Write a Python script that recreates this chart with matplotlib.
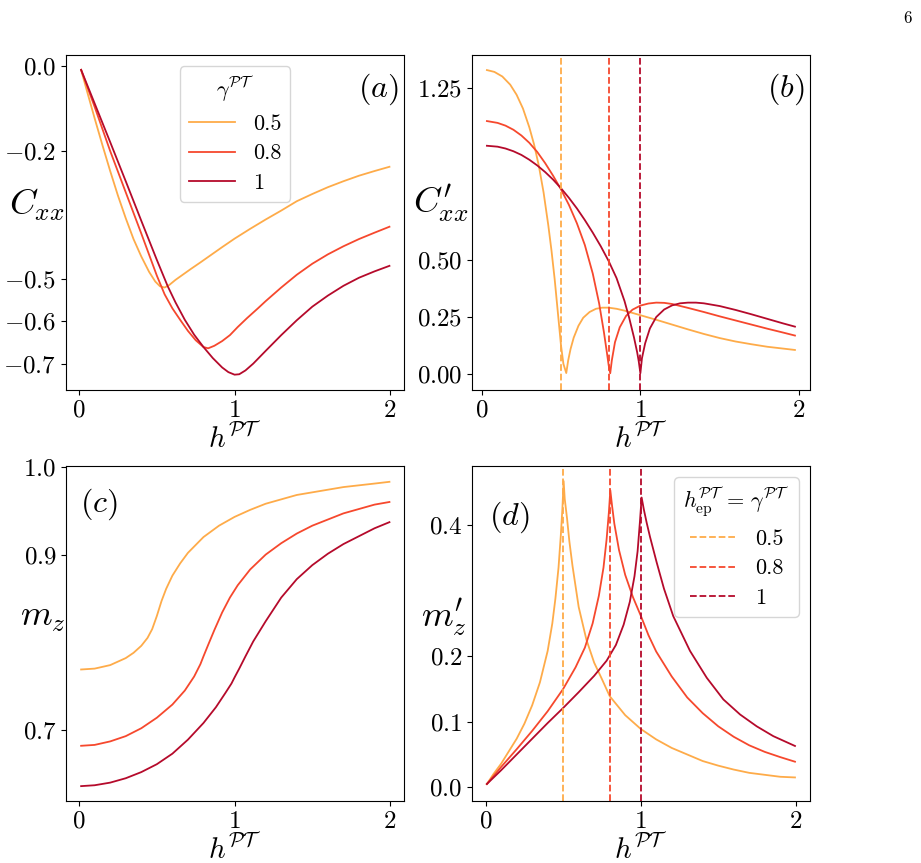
import numpy as np
import matplotlib
matplotlib.use('Agg')
from matplotlib import pyplot as plt
from matplotlib import rcParams

rcParams['font.family'] = 'serif'
rcParams['font.serif'] = ['cmr10', 'DejaVu Serif']
rcParams['mathtext.fontset'] = 'cm'
rcParams['axes.unicode_minus'] = False
rcParams['xtick.labelsize'] = 18
rcParams['ytick.labelsize'] = 18
rcParams['legend.fontsize'] = 16

gammas = ['0.5', '0.8', '1']
gamma_vals = [0.5, 0.8, 1.0]
colors = ['#feab49', '#f6482d', '#b50a2b']

# (a) C_xx
ha_05 = [0.013, 0.05, 0.1, 0.15, 0.2, 0.25, 0.3, 0.35, 0.4, 0.45, 0.49, 0.52, 0.55, 0.58, 0.62,
         0.67, 0.72, 0.78, 0.85, 0.92, 1.0, 1.1, 1.2, 1.3, 1.4, 1.5, 1.6, 1.7, 1.8, 1.9, 1.996]
Ca_05 = [-0.009, -0.058, -0.123, -0.186, -0.247, -0.305, -0.358, -0.407, -0.448, -0.484, -0.507,
         -0.518, -0.521, -0.515, -0.503, -0.490, -0.477, -0.462, -0.444, -0.426, -0.406, -0.383,
         -0.361, -0.340, -0.318, -0.301, -0.285, -0.271, -0.258, -0.247, -0.237]
ha_08 = [0.013, 0.1, 0.2, 0.3, 0.4, 0.5, 0.55, 0.6, 0.65, 0.7, 0.75, 0.8, 0.83, 0.87, 0.92, 0.97,
         1.02, 1.08, 1.15, 1.2, 1.3, 1.4, 1.5, 1.6, 1.7, 1.8, 1.9, 1.996]
Ca_08 = [-0.009, -0.096, -0.200, -0.297, -0.394, -0.493, -0.537, -0.570, -0.597, -0.623, -0.645,
         -0.661, -0.664, -0.658, -0.647, -0.633, -0.614, -0.593, -0.570, -0.553, -0.521, -0.491,
         -0.465, -0.443, -0.424, -0.407, -0.392, -0.378]
ha_10 = [0.013, 0.1, 0.2, 0.3, 0.4, 0.5, 0.57, 0.62, 0.68, 0.74, 0.8, 0.86, 0.92, 0.96, 1.0, 1.03,
         1.07, 1.12, 1.2, 1.3, 1.4, 1.5, 1.6, 1.7, 1.8, 1.9, 1.996]
Ca_10 = [-0.009, -0.088, -0.179, -0.271, -0.364, -0.456, -0.518, -0.556, -0.597, -0.632, -0.661,
         -0.687, -0.709, -0.720, -0.726, -0.725, -0.716, -0.700, -0.670, -0.633, -0.598, -0.566,
         -0.540, -0.517, -0.498, -0.483, -0.470]

# (b) C'_xx
hb_05 = [0.033, 0.08, 0.13, 0.18, 0.22, 0.26, 0.30, 0.33, 0.36, 0.39, 0.42, 0.44, 0.46, 0.48, 0.50,
         0.515, 0.533, 0.545, 0.56, 0.58, 0.61, 0.64, 0.68, 0.72, 0.76, 0.80, 0.85, 0.90, 0.95, 1.0,
         1.1, 1.2, 1.3, 1.4, 1.5, 1.6, 1.7, 1.8, 1.9, 1.974]
Cb_05 = [1.330, 1.322, 1.302, 1.266, 1.222, 1.162, 1.080, 1.005, 0.912, 0.795, 0.650, 0.540, 0.415,
         0.270, 0.125, 0.045, 0.005, 0.060, 0.110, 0.160, 0.212, 0.247, 0.272, 0.286, 0.291, 0.291,
         0.286, 0.278, 0.268, 0.258, 0.238, 0.217, 0.196, 0.176, 0.158, 0.143, 0.131, 0.120, 0.112,
         0.106]
hb_08 = [0.033, 0.1, 0.15, 0.2, 0.25, 0.3, 0.35, 0.4, 0.45, 0.5, 0.55, 0.6, 0.65, 0.7, 0.74, 0.77,
         0.79, 0.80, 0.81, 0.82, 0.84, 0.87, 0.91, 0.95, 1.0, 1.05, 1.1, 1.15, 1.2, 1.3, 1.4, 1.5,
         1.6, 1.7, 1.8, 1.9, 1.974]
Cb_08 = [1.107, 1.099, 1.087, 1.069, 1.044, 1.012, 0.972, 0.923, 0.868, 0.808, 0.740, 0.660,
         0.565, 0.440, 0.310, 0.185, 0.090, 0.040, 0.004, 0.060, 0.140, 0.205, 0.255, 0.282, 0.300,
         0.309, 0.313, 0.312, 0.307, 0.290, 0.272, 0.253, 0.235, 0.217, 0.199, 0.182, 0.169]
hb_10 = [0.033, 0.1, 0.15, 0.2, 0.25, 0.3, 0.35, 0.4, 0.45, 0.5, 0.55, 0.6, 0.65, 0.7, 0.75, 0.8,
         0.85, 0.9, 0.93, 0.96, 0.98, 0.99, 1.0, 1.01, 1.03, 1.06, 1.1, 1.15, 1.2, 1.25, 1.3, 1.35,
         1.4, 1.5, 1.6, 1.7, 1.8, 1.9, 1.974]
Cb_10 = [0.999, 0.995, 0.987, 0.975, 0.959, 0.938, 0.913, 0.884, 0.851, 0.813, 0.771, 0.725,
         0.674, 0.619, 0.560, 0.495, 0.420, 0.320, 0.245, 0.160, 0.095, 0.055, 0.004, 0.070, 0.135,
         0.200, 0.250, 0.283, 0.301, 0.310, 0.313, 0.313, 0.310, 0.298, 0.281, 0.262, 0.242, 0.222,
         0.208]

# (c) m_z
hc_05 = [0.013, 0.1, 0.2, 0.3, 0.35, 0.4, 0.44, 0.47, 0.5, 0.53, 0.56, 0.6, 0.65, 0.7, 0.8, 0.9,
         1.0, 1.1, 1.2, 1.3, 1.4, 1.5, 1.6, 1.7, 1.8, 1.9, 1.996]
mc_05 = [0.769, 0.770, 0.774, 0.782, 0.788, 0.796, 0.805, 0.815, 0.830, 0.847, 0.861, 0.876,
         0.890, 0.902, 0.920, 0.933, 0.943, 0.951, 0.958, 0.963, 0.968, 0.971, 0.974, 0.977, 0.979,
         0.981, 0.983]
hc_08 = [0.013, 0.1, 0.2, 0.3, 0.4, 0.5, 0.6, 0.68, 0.74, 0.78, 0.8, 0.83, 0.87, 0.92, 0.97, 1.02,
         1.1, 1.2, 1.3, 1.4, 1.5, 1.6, 1.7, 1.8, 1.9, 1.996]
mc_08 = [0.682, 0.683, 0.687, 0.693, 0.702, 0.714, 0.729, 0.745, 0.761, 0.775, 0.784, 0.797,
         0.814, 0.834, 0.851, 0.865, 0.883, 0.900, 0.913, 0.924, 0.933, 0.940, 0.947, 0.952, 0.957,
         0.960]
hc_10 = [0.013, 0.1, 0.2, 0.3, 0.4, 0.5, 0.6, 0.7, 0.8, 0.88, 0.94, 0.98, 1.0, 1.03, 1.07, 1.12,
         1.2, 1.3, 1.4, 1.5, 1.6, 1.7, 1.8, 1.9, 1.996]
mc_10 = [0.636, 0.637, 0.640, 0.645, 0.652, 0.661, 0.673, 0.689, 0.708, 0.726, 0.742, 0.753,
         0.760, 0.770, 0.784, 0.801, 0.824, 0.851, 0.872, 0.888, 0.901, 0.912, 0.921, 0.930, 0.937]

# (d) m'_z
hd_05 = [0.008, 0.05, 0.1, 0.15, 0.2, 0.25, 0.3, 0.35, 0.4, 0.43, 0.45, 0.47, 0.485, 0.495, 0.503,
         0.51, 0.525, 0.54, 0.56, 0.6, 0.65, 0.7, 0.75, 0.8, 0.9, 1.0, 1.1, 1.2, 1.3, 1.4, 1.5, 1.6,
         1.7, 1.8, 1.9, 1.995]
md_05 = [0.005, 0.020, 0.036, 0.055, 0.074, 0.097, 0.125, 0.160, 0.208, 0.250, 0.288, 0.335,
         0.385, 0.425, 0.467, 0.440, 0.410, 0.375, 0.338, 0.275, 0.225, 0.190, 0.165, 0.139, 0.110,
         0.089, 0.073, 0.060, 0.050, 0.040, 0.033, 0.027, 0.022, 0.019, 0.016, 0.015]
hd_08 = [0.008, 0.1, 0.2, 0.3, 0.4, 0.5, 0.58, 0.64, 0.69, 0.73, 0.76, 0.78, 0.795, 0.804, 0.815,
         0.83, 0.86, 0.9, 0.95, 1.0, 1.05, 1.1, 1.2, 1.3, 1.4, 1.5, 1.6, 1.7, 1.8, 1.9, 1.995]
md_08 = [0.005, 0.031, 0.058, 0.086, 0.116, 0.150, 0.183, 0.213, 0.250, 0.292, 0.335, 0.378,
         0.420, 0.453, 0.430, 0.402, 0.362, 0.324, 0.290, 0.262, 0.232, 0.207, 0.169, 0.137, 0.113,
         0.093, 0.077, 0.064, 0.054, 0.046, 0.039]
hd_10 = [0.008, 0.1, 0.2, 0.3, 0.4, 0.5, 0.6, 0.7, 0.78, 0.84, 0.89, 0.93, 0.96, 0.98, 0.995,
         1.006, 1.02, 1.039, 1.06, 1.103, 1.15, 1.21, 1.318, 1.426, 1.533, 1.641, 1.748, 1.855, 1.995]
md_10 = [0.005, 0.026, 0.050, 0.074, 0.098, 0.121, 0.145, 0.170, 0.193, 0.217, 0.248, 0.283,
         0.322, 0.360, 0.405, 0.442, 0.424, 0.403, 0.382, 0.343, 0.303, 0.261, 0.208, 0.167, 0.134,
         0.111, 0.093, 0.078, 0.063]

xt = r'$h^{\mathcal{PT}}$'

fig, axs = plt.subplots(2, 2, figsize=(9.21, 8.63), dpi=100)
fig.subplots_adjust(left=0.0717, right=0.8795, top=0.9363, bottom=0.0718,
                    wspace=0.201, hspace=0.227)
ax_a, ax_b = axs[0]
ax_c, ax_d = axs[1]

# (a)
for h, c, col, g in zip([ha_05, ha_08, ha_10], [Ca_05, Ca_08, Ca_10], colors, gammas):
    ax_a.plot(h, c, color=col, lw=1.3, label=g)
ax_a.set_xlim(-0.084, 2.09)
ax_a.set_ylim(-0.762, 0.026)
ax_a.set_yticks([0.0, -0.2, -0.5, -0.6, -0.7],
                labels=[r'$0.0$', r'$-0.2$', r'$-0.5$', r'$-0.6$', r'$-0.7$'])
ax_a.set_ylabel(r'$C_{xx}$', fontsize=26, rotation=0, ha='center', va='center')
ax_a.yaxis.set_label_coords(-0.086, 0.552)
ax_a.text(0.985, 0.95, r'$(a)$', transform=ax_a.transAxes, fontsize=23, ha='right', va='top')
ax_a.legend(title=r'$\gamma^{\mathcal{PT}}$', loc='upper center', handlelength=2.1,
            title_fontsize=16, labelspacing=0.45)

# (b)
for h, c, col in zip([hb_05, hb_08, hb_10], [Cb_05, Cb_08, Cb_10], colors):
    ax_b.plot(h, c, color=col, lw=1.3)
for g, col in zip(gamma_vals, colors):
    ax_b.axvline(g, color=col, ls='--', lw=1.3)
ax_b.set_xlim(-0.061, 2.069)
ax_b.set_ylim(-0.069, 1.396)
ax_b.set_yticks([0.0, 0.25, 0.5, 1.25],
                labels=[r'$0.00$', r'$0.25$', r'$0.50$', r'$1.25$'])
ax_b.set_ylabel(r"$C^{\prime}_{xx}$", fontsize=26, rotation=0, ha='center', va='center')
ax_b.yaxis.set_label_coords(-0.092, 0.558)
ax_b.text(0.985, 0.95, r'$(b)$', transform=ax_b.transAxes, fontsize=23, ha='right', va='top')

# (c)
for h, m, col in zip([hc_05, hc_08, hc_10], [mc_05, mc_08, mc_10], colors):
    ax_c.plot(h, m, color=col, lw=1.3)
ax_c.set_xlim(-0.084, 2.09)
ax_c.set_ylim(0.619, 1.001)
ax_c.set_yticks([0.7, 0.9, 1.0], labels=[r'$0.7$', r'$0.9$', r'$1.0$'])
ax_c.set_ylabel(r'$m_z$', fontsize=26, rotation=0, ha='center', va='center')
ax_c.yaxis.set_label_coords(-0.07, 0.546)
ax_c.text(0.04, 0.94, r'$(c)$', transform=ax_c.transAxes, fontsize=23, ha='left', va='top')

# (d)
for h, m, col in zip([hd_05, hd_08, hd_10], [md_05, md_08, md_10], colors):
    ax_d.plot(h, m, color=col, lw=1.3)
for g, lab, col in zip(gamma_vals, gammas, colors):
    ax_d.axvline(g, color=col, ls='--', lw=1.3, label=lab)
ax_d.set_xlim(-0.088, 2.092)
ax_d.set_ylim(-0.021, 0.490)
ax_d.set_yticks([0.0, 0.1, 0.2, 0.4], labels=[r'$0.0$', r'$0.1$', r'$0.2$', r'$0.4$'])
ax_d.set_ylabel(r"$m^{\prime}_z$", fontsize=26, rotation=0, ha='center', va='center')
ax_d.yaxis.set_label_coords(-0.083, 0.55)
ax_d.text(0.05, 0.9, r'$(d)$', transform=ax_d.transAxes, fontsize=23, ha='left', va='top')
ax_d.legend(title=r'$h^{\mathcal{PT}}_{\rm ep}\,=\,\gamma^{\mathcal{PT}}$', loc='upper right',
            handlelength=2.1, title_fontsize=16, labelspacing=0.45)

for ax in axs.flat:
    ax.set_xticks([0, 1, 2], labels=[r'$0$', r'$1$', r'$2$'])
    ax.set_xlabel(xt, fontsize=21, labelpad=0)

fig.text(0.99, 0.988, '6', fontsize=12, ha='right', va='top')

fig.savefig('out.png', dpi=100)
